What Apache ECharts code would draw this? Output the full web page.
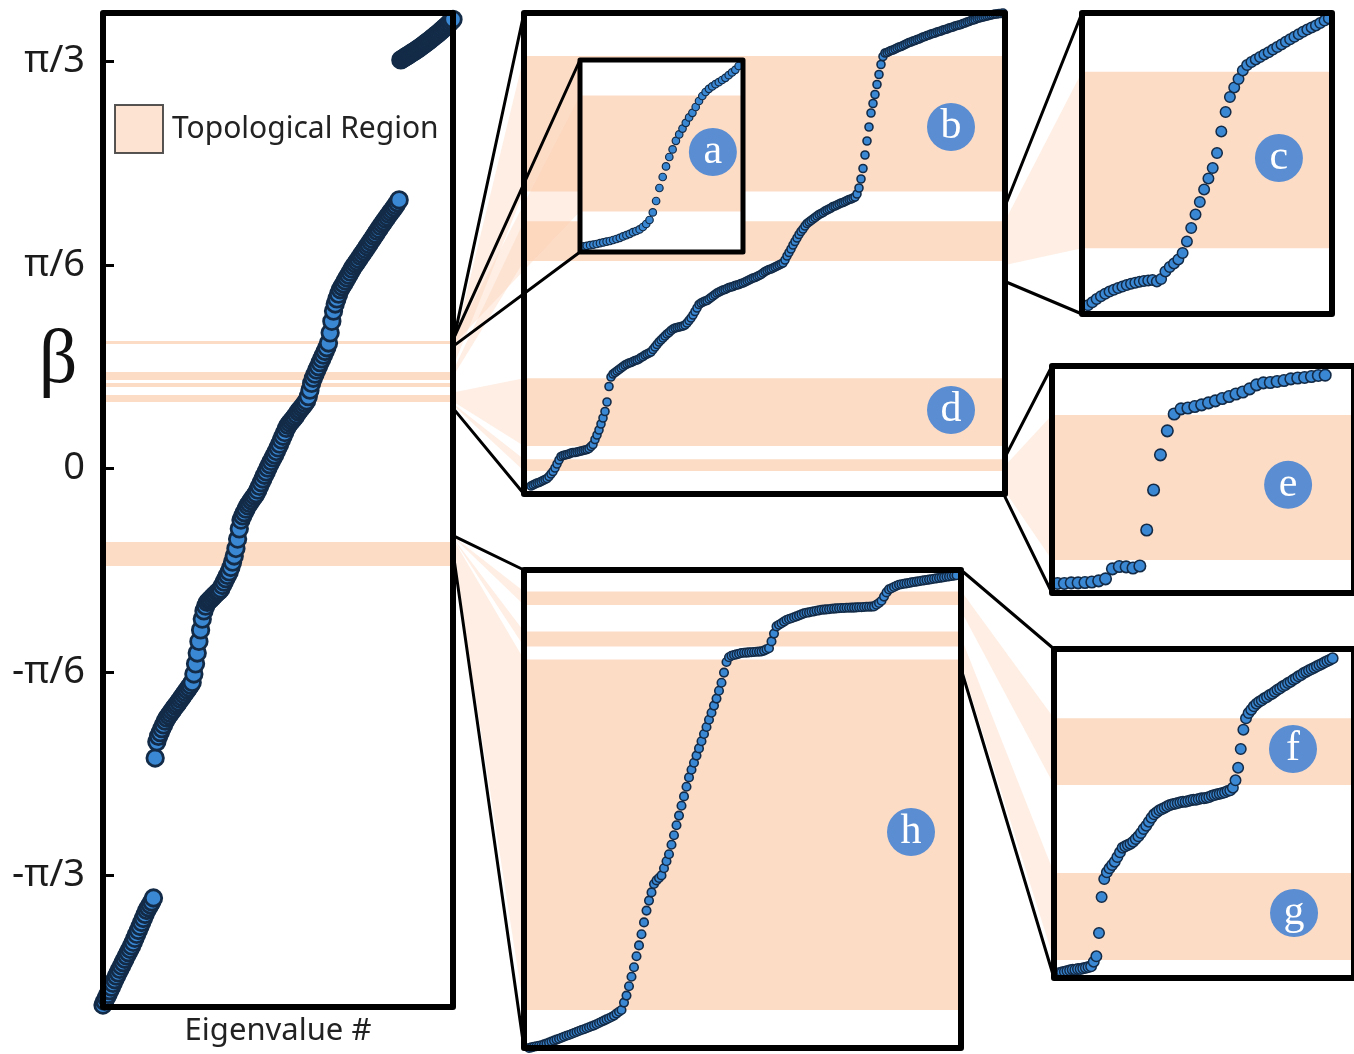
<!DOCTYPE html>
<html>
<head>
<meta charset="utf-8">
<title>Eigenvalue spectrum</title>
<script src="https://cdn.jsdelivr.net/npm/echarts@6.0.0/dist/echarts.min.js"></script>
<style>
  html, body { margin: 0; padding: 0; background: #ffffff; }
  #chart { width: 1354px; height: 1054px; }
</style>
</head>
<body>
<div id="chart"></div>
<script>
// β in degrees for each eigenvalue, listed in eigenvalue-number order.
const betaTicks = [-60, -30, 0, 30, 60];
const betaTickLabels = ['-π/3', '-π/6', '0', 'π/6', 'π/3'];

// Full spectrum
const mainBeta = [
  // lowest branch
  -79.10, -78.56, -78.03, -77.52, -76.98, -76.45, -75.91, -75.37, -74.83, -74.35,
  -73.85, -73.35, -72.85, -72.35, -71.85, -71.38, -70.88, -70.38, -69.85, -69.26,
  -68.67, -68.11, -67.52, -66.93, -66.34, -65.75, -65.16, -64.74, -64.32, -63.89,
  -63.32,
  // central branch
  -42.68, -40.30, -39.50, -38.95, -38.35, -37.80, -37.25, -36.80, -36.45, -36.10,
  -35.75, -35.40, -35.05, -34.75, -34.40, -34.05, -33.70, -33.35, -33.00, -32.65,
  -32.30, -31.95, -31.55, -30.30, -28.80, -27.20, -25.50, -23.80, -22.20, -21.00,
  -20.30, -19.75, -19.50, -19.25, -19.00, -18.75, -18.50, -18.25, -18.05, -17.75,
  -17.25, -16.75, -16.25, -15.75, -15.25, -14.60, -13.80, -12.90, -11.80, -10.40,
  -8.90, -7.60, -7.00, -6.50, -6.00, -5.50, -5.15, -4.75, -4.40, -4.05,
  -3.70, -3.20, -2.65, -2.10, -1.55, -1.00, -0.50, 0.05, 0.55, 1.05,
  1.55, 2.00, 2.50, 3.05, 3.60, 4.20, 4.75, 5.30, 5.90, 6.35,
  6.70, 7.00, 7.30, 7.60, 7.95, 8.35, 8.65, 8.95, 9.25, 9.60,
  9.95, 10.60, 11.55, 12.55, 13.30, 13.90, 14.50, 15.00, 15.60, 16.15,
  16.70, 17.25, 17.80, 18.50, 20.00, 21.70, 23.20, 24.25, 25.00, 25.70,
  26.35, 26.80, 27.20, 27.65, 28.10, 28.50, 28.95, 29.40, 29.80, 30.15,
  30.50, 30.85, 31.25, 31.60, 31.95, 32.30, 32.70, 33.05, 33.45, 33.80,
  34.20, 34.55, 34.95, 35.30, 35.70, 36.05, 36.40, 36.75, 37.10, 37.45,
  37.80, 38.10, 38.45, 38.80, 39.20, 39.59,
  // highest branch
  60.23, 60.40, 60.55, 60.70, 60.86, 61.02, 61.18, 61.34, 61.50, 61.66,
  61.82, 62.00, 62.18, 62.36, 62.55, 62.74, 62.93, 63.12, 63.32, 63.52,
  63.72, 63.92, 64.12, 64.33, 64.55, 64.77, 64.99, 65.22, 65.46, 65.70,
  65.95, 66.20
];
const mainBands = [[18.35, 18.80], [13.05, 14.23], [12.00, 12.60], [9.80, 10.84], [-14.37, -10.84]];

// Zoom b / d
const bdBeta = [
  9.06, 9.08, 9.10, 9.12, 9.13, 9.15, 9.17, 9.19, 9.21, 9.25,
  9.30, 9.35, 9.42, 9.50, 9.58, 9.65, 9.67, 9.68, 9.69, 9.70,
  9.72, 9.73, 9.73, 9.74, 9.75, 9.76, 9.77, 9.78, 9.79, 9.81,
  9.85, 9.89, 9.99, 10.08, 10.18, 10.30, 10.42, 10.55, 10.74, 11.05,
  11.24, 11.30, 11.33, 11.36, 11.39, 11.42, 11.45, 11.48, 11.50, 11.52,
  11.53, 11.55, 11.57, 11.58, 11.60, 11.63, 11.65, 11.68, 11.70, 11.72,
  11.74, 11.79, 11.84, 11.89, 11.94, 11.98, 12.02, 12.06, 12.10, 12.13,
  12.17, 12.20, 12.22, 12.23, 12.24, 12.25, 12.26, 12.28, 12.32, 12.37,
  12.42, 12.48, 12.55, 12.62, 12.69, 12.72, 12.74, 12.76, 12.77, 12.80,
  12.83, 12.86, 12.89, 12.92, 12.94, 12.96, 12.98, 12.99, 13.01, 13.03,
  13.04, 13.05, 13.07, 13.08, 13.09, 13.11, 13.12, 13.14, 13.16, 13.18,
  13.20, 13.22, 13.23, 13.25, 13.27, 13.29, 13.32, 13.35, 13.37, 13.39,
  13.40, 13.42, 13.44, 13.46, 13.48, 13.50, 13.52, 13.58, 13.66, 13.73,
  13.80, 13.88, 13.95, 14.02, 14.09, 14.15, 14.20, 14.26, 14.31, 14.34,
  14.37, 14.40, 14.43, 14.46, 14.49, 14.51, 14.53, 14.56, 14.58, 14.60,
  14.62, 14.65, 14.66, 14.68, 14.70, 14.72, 14.73, 14.75, 14.77, 14.79,
  14.80, 14.82, 14.84, 14.90, 15.02, 15.20, 15.41, 15.68, 15.96, 16.24,
  16.52, 16.71, 16.89, 17.09, 17.29, 17.49, 17.65, 17.72, 17.73, 17.75,
  17.77, 17.78, 17.80, 17.82, 17.84, 17.85, 17.87, 17.89, 17.91, 17.93,
  17.94, 17.96, 17.97, 17.99, 18.00, 18.02, 18.04, 18.05, 18.07, 18.08,
  18.10, 18.11, 18.12, 18.14, 18.15, 18.16, 18.18, 18.19, 18.20, 18.22,
  18.23, 18.24, 18.26, 18.27, 18.28, 18.29, 18.31, 18.32, 18.34, 18.35,
  18.37, 18.38, 18.39, 18.41, 18.42, 18.43, 18.44, 18.45, 18.46, 18.47,
  18.48, 18.49, 18.50, 18.50, 18.51, 18.51, 18.52
];
const bdBands = [[14.95, 17.66], [13.56, 14.354], [9.86, 11.214], [9.36, 9.594]];

// Zoom a
const aBeta = [
  18.028, 18.031, 18.034, 18.037, 18.040, 18.044, 18.048, 18.052, 18.055, 18.060,
  18.065, 18.071, 18.078, 18.084, 18.091, 18.099, 18.105, 18.113, 18.125, 18.140,
  18.160, 18.198, 18.255, 18.320, 18.375, 18.428, 18.475, 18.513, 18.556, 18.588,
  18.617, 18.646, 18.673, 18.696, 18.725, 18.755, 18.780, 18.800, 18.816, 18.828,
  18.839, 18.849, 18.860, 18.871, 18.884, 18.898, 18.911, 18.930
];
const aBands = [[18.203, 18.782]];

// Zoom c
const cBeta = [
  13.194, 13.209, 13.225, 13.239, 13.251, 13.262, 13.271, 13.280, 13.287, 13.295,
  13.301, 13.306, 13.311, 13.315, 13.318, 13.320, 13.313, 13.325, 13.363, 13.385,
  13.403, 13.423, 13.455, 13.513, 13.580, 13.648, 13.710, 13.773, 13.828, 13.880,
  13.955, 14.063, 14.160, 14.235, 14.283, 14.325, 14.368, 14.395, 14.410, 14.423,
  14.435, 14.448, 14.459, 14.472, 14.485, 14.498, 14.511, 14.524, 14.536, 14.549,
  14.561, 14.572, 14.583, 14.593, 14.605, 14.617, 14.629
];
const cBands = [[13.4785, 14.3615]];

// Zoom e
const eBeta = [
  8.875, 8.875, 8.877, 8.877, 8.878, 8.880, 8.884, 8.891, 8.926, 8.934,
  8.933, 8.929, 8.936, 9.062, 9.202, 9.325, 9.409, 9.468, 9.486, 9.489,
  9.494, 9.500, 9.507, 9.514, 9.522, 9.529, 9.538, 9.545, 9.556, 9.570,
  9.577, 9.578, 9.582, 9.585, 9.591, 9.594, 9.596, 9.599, 9.603, 9.604
];
const eBands = [[8.957, 9.4645]];

// Zoom h
const hBeta = [
  -12.290, -12.287, -12.284, -12.281, -12.279, -12.276, -12.272, -12.268, -12.263, -12.258,
  -12.253, -12.248, -12.244, -12.239, -12.234, -12.229, -12.225, -12.220, -12.215, -12.210,
  -12.205, -12.200, -12.196, -12.191, -12.186, -12.181, -12.177, -12.171, -12.165, -12.159,
  -12.153, -12.147, -12.141, -12.135, -12.128, -12.118, -12.109, -12.100, -12.063, -12.028,
  -11.981, -11.934, -11.886, -11.831, -11.777, -11.721, -11.662, -11.603, -11.553, -11.512,
  -11.470, -11.452, -11.440, -11.427, -11.391, -11.356, -11.321, -11.274, -11.226, -11.176,
  -11.128, -11.079, -11.032, -10.984, -10.937, -10.899, -10.864, -10.828, -10.792, -10.756,
  -10.720, -10.685, -10.649, -10.614, -10.578, -10.543, -10.504, -10.464, -10.413, -10.360,
  -10.336, -10.329, -10.325, -10.322, -10.319, -10.315, -10.314, -10.313, -10.312, -10.311,
  -10.310, -10.309, -10.308, -10.307, -10.303, -10.297, -10.291, -10.257, -10.218, -10.182,
  -10.174, -10.166, -10.158, -10.150, -10.145, -10.141, -10.136, -10.132, -10.127, -10.122,
  -10.117, -10.114, -10.112, -10.109, -10.107, -10.104, -10.102, -10.099, -10.098, -10.097,
  -10.096, -10.094, -10.093, -10.092, -10.091, -10.090, -10.090, -10.089, -10.089, -10.088,
  -10.088, -10.087, -10.086, -10.086, -10.085, -10.084, -10.084, -10.083, -10.082, -10.074,
  -10.065, -10.054, -10.033, -10.012, -9.997, -9.991, -9.985, -9.979, -9.974, -9.971,
  -9.969, -9.967, -9.965, -9.962, -9.960, -9.958, -9.956, -9.954, -9.952, -9.950,
  -9.948, -9.946, -9.944, -9.942, -9.940, -9.938, -9.936, -9.934, -9.932, -9.930,
  -9.928, -9.926
];
const hBands = [[-10.0745, -10.008], [-10.282, -10.207], [-12.0995, -10.348]];

// Zoom f / g
const fgBeta = [
  -10.386, -10.385, -10.384, -10.383, -10.382, -10.381, -10.381, -10.380, -10.380, -10.379,
  -10.378, -10.377, -10.376, -10.369, -10.361, -10.326, -10.272, -10.245, -10.235, -10.229,
  -10.224, -10.219, -10.212, -10.205, -10.198, -10.196, -10.194, -10.192, -10.189, -10.185,
  -10.181, -10.176, -10.170, -10.165, -10.159, -10.153, -10.148, -10.145, -10.142, -10.140,
  -10.138, -10.136, -10.134, -10.133, -10.132, -10.131, -10.130, -10.129, -10.129, -10.128,
  -10.127, -10.126, -10.126, -10.125, -10.124, -10.124, -10.123, -10.122, -10.120, -10.119,
  -10.118, -10.117, -10.116, -10.115, -10.113, -10.112, -10.108, -10.097, -10.078, -10.050,
  -10.021, -10.004, -9.996, -9.991, -9.986, -9.982, -9.979, -9.977, -9.974, -9.972,
  -9.969, -9.967, -9.964, -9.961, -9.959, -9.956, -9.954, -9.951, -9.949, -9.946,
  -9.944, -9.941, -9.939, -9.936, -9.934, -9.932, -9.930, -9.928, -9.926, -9.924,
  -9.922, -9.920, -9.918, -9.916, -9.914
];
const fgBands = [[-10.104, -10.004], [-10.3665, -10.236]];

// ---------------------------------------------------------------------------
// Layout and styling of the panels
const FONT = '"Noto Sans", "Open Sans", sans-serif';
const SERIF = '"Liberation Serif", "DejaVu Serif", serif';
const PEACH = '#fddcc6';
const DOT_FILL = '#3a88d4';
const DOT_EDGE = '#132b47';
const BADGE = '#5a8dd1';

const panels = [
  { beta: mainBeta, bands: mainBands, rect: [103, 13, 350, 994], x: [0, 208],      y: [-79.39, 67.15],   dot: 16.5, edge: 2.8, frame: 6 },
  { beta: bdBeta,   bands: bdBands,   rect: [524, 13, 481, 481], x: [-3.5, 237],   y: [8.90, 18.52],     dot: 8,    edge: 1.6, frame: 6 },
  { beta: aBeta,    bands: aBands,    rect: [580, 60, 163, 192], x: [-1.06, 48.33], y: [18.0, 18.96],    dot: 7.5,  edge: 1.2, frame: 5, raised: true },
  { beta: cBeta,    bands: cBands,    rect: [1082, 13, 250, 301], x: [-1.4, 56.74], y: [13.15, 14.655],  dot: 10.5, edge: 1.5, frame: 6 },
  { beta: eBeta,    bands: eBands,    rect: [1052, 366, 330, 227], x: [-0.8, 43.2], y: [8.8415, 9.636],  dot: 11.5, edge: 1.6, frame: 6 },
  { beta: hBeta,    bands: hBands,    rect: [524, 570, 437, 478], x: [-2, 172.8],   y: [-12.29, -9.9],   dot: 8.5,  edge: 1.6, frame: 6 },
  { beta: fgBeta,   bands: fgBands,   rect: [1054, 649, 320, 329], x: [-2.14, 112.14], y: [-10.3935, -9.9], dot: 10.5, edge: 1.5, frame: 6 }
];

// parent panel -> zoomed panel
const zoomLinks = [[0, 1], [0, 2], [1, 3], [1, 4], [0, 5], [5, 6]];

// letter badges, anchored in each panel's own (eigenvalue #, β) coordinates
const badges = [
  { panel: 2, at: [39.2, 18.50],   text: 'a' },
  { panel: 1, at: [210, 16.24],    text: 'b' },
  { panel: 3, at: [44.4, 13.93],   text: 'c' },
  { panel: 1, at: [210, 10.58],    text: 'd' },
  { panel: 4, at: [33.6, 9.22],    text: 'e' },
  { panel: 6, at: [88.9, -10.05],  text: 'f' },
  { panel: 6, at: [89.3, -10.296], text: 'g' },
  { panel: 5, at: [152.8, -11.21], text: 'h' }
];

const chart = echarts.init(document.getElementById('chart'), null, { renderer: 'canvas' });

const grid = panels.map(p => ({
  left: p.rect[0], top: p.rect[1], width: p.rect[2], height: p.rect[3],
  show: !!p.raised, backgroundColor: '#ffffff', borderWidth: 0,
  z: p.raised ? 10 : 0
}));

const xAxis = panels.map((p, k) => ({
  type: 'value', gridIndex: k, min: p.x[0], max: p.x[1],
  show: k === 0,
  axisLine: { show: false }, axisTick: { show: false },
  axisLabel: { show: false }, splitLine: { show: false },
  name: k === 0 ? 'Eigenvalue #' : '',
  nameLocation: 'middle', nameGap: 9,
  nameTextStyle: { fontSize: 31, fontFamily: FONT, color: '#222', verticalAlign: 'top' }
}));

const yAxis = panels.map((p, k) => ({
  type: 'value', gridIndex: k, min: p.y[0], max: p.y[1],
  show: k === 0,
  axisLine: { show: false },
  splitLine: { show: false },
  axisTick: {
    show: k === 0, inside: true, length: 11, customValues: betaTicks,
    lineStyle: { color: '#000', width: 3 }
  },
  axisLabel: {
    show: k === 0, customValues: betaTicks, margin: 18,
    fontSize: 38, fontFamily: FONT, color: '#1c1c1c',
    formatter: v => {
      const i = betaTicks.indexOf(Math.round(v));
      return i >= 0 ? betaTickLabels[i] : '';
    }
  }
}));

const series = [];
panels.forEach((p, k) => {
  const zb = p.raised ? 10 : 0;
  series.push({
    name: 'Topological Region', type: 'scatter',
    xAxisIndex: k, yAxisIndex: k, data: [], silent: true,
    itemStyle: { color: PEACH },
    markArea: {
      silent: true, z: zb + 1,
      itemStyle: { color: PEACH },
      data: p.bands.map(b => [{ yAxis: b[0] }, { yAxis: b[1] }])
    }
  });
  series.push({
    name: 'Eigenvalues', type: 'scatter',
    xAxisIndex: k, yAxisIndex: k, silent: true,
    z: zb + 3,
    symbol: 'circle', symbolSize: p.dot,
    itemStyle: { color: DOT_FILL, borderColor: DOT_EDGE, borderWidth: p.edge, opacity: 1 },
    data: p.beta.map((b, i) => [i, b])
  });
});
badges.forEach(b => {
  const zb = panels[b.panel].raised ? 10 : 0;
  series.push({
    name: 'badge-' + b.text, type: 'scatter',
    xAxisIndex: b.panel, yAxisIndex: b.panel, silent: true,
    z: zb + 4,
    symbol: 'circle', symbolSize: 48,
    itemStyle: { color: BADGE, opacity: 1 },
    label: {
      show: true, position: 'inside', formatter: '{b}',
      color: '#ffffff', fontSize: 42, fontFamily: SERIF
    },
    data: [{ name: b.text, value: b.at }]
  });
});

chart.setOption({
  animation: false,
  backgroundColor: '#ffffff',
  grid, xAxis, yAxis, series,
  legend: {
    left: 114, top: 104, padding: 0,
    itemWidth: 48, itemHeight: 48, itemGap: 0,
    selectedMode: false,
    textStyle: { fontSize: 30, fontFamily: FONT, color: '#222', padding: [0, 0, 0, 4] },
    data: [{
      name: 'Topological Region', icon: 'rect',
      itemStyle: { color: PEACH, borderColor: '#2a2a2a', borderWidth: 2 }
    }]
  }
});

// Frames, zoom connectors and the β axis title are placed from the panels' own axes.
function toPx(k, x, y) { return chart.convertToPixel({ gridIndex: k }, [x, y]); }
function yPx(k, v) { return chart.convertToPixel({ yAxisIndex: k }, v); }

const elements = [];

zoomLinks.forEach(([pi, ci]) => {
  const P = panels[pi], C = panels[ci];
  const px = toPx(pi, P.x[1], P.y[0])[0];
  const cx = toPx(ci, C.x[0], C.y[0])[0];
  C.bands.forEach(b => {
    elements.push({
      type: 'polygon', z: 2, silent: true,
      shape: { points: [
        [px, yPx(pi, b[1])], [cx, yPx(ci, b[1])],
        [cx, yPx(ci, b[0])], [px, yPx(pi, b[0])]
      ] },
      style: { fill: 'rgba(251, 206, 176, 0.34)' }
    });
  });
  [C.y[1], C.y[0]].forEach(v => {
    elements.push({
      type: 'line', z: 30, silent: true,
      shape: { x1: px, y1: yPx(pi, v), x2: cx, y2: yPx(ci, v) },
      style: { stroke: '#000', lineWidth: 3, lineCap: 'round' }
    });
  });
});

panels.forEach((p, k) => {
  const tl = toPx(k, p.x[0], p.y[1]);
  const br = toPx(k, p.x[1], p.y[0]);
  elements.push({
    type: 'rect', z: 25, silent: true,
    shape: { x: tl[0], y: tl[1], width: br[0] - tl[0], height: br[1] - tl[1] },
    style: { fill: null, stroke: '#000', lineWidth: p.frame, lineJoin: 'round' }
  });
});

elements.push({
  type: 'text', z: 30, silent: true, x: 58, y: 362,
  style: { text: 'β', font: '76px ' + SERIF, fill: '#111', align: 'center', verticalAlign: 'middle' }
});

chart.setOption({ graphic: { elements } });
</script>
</body>
</html>
